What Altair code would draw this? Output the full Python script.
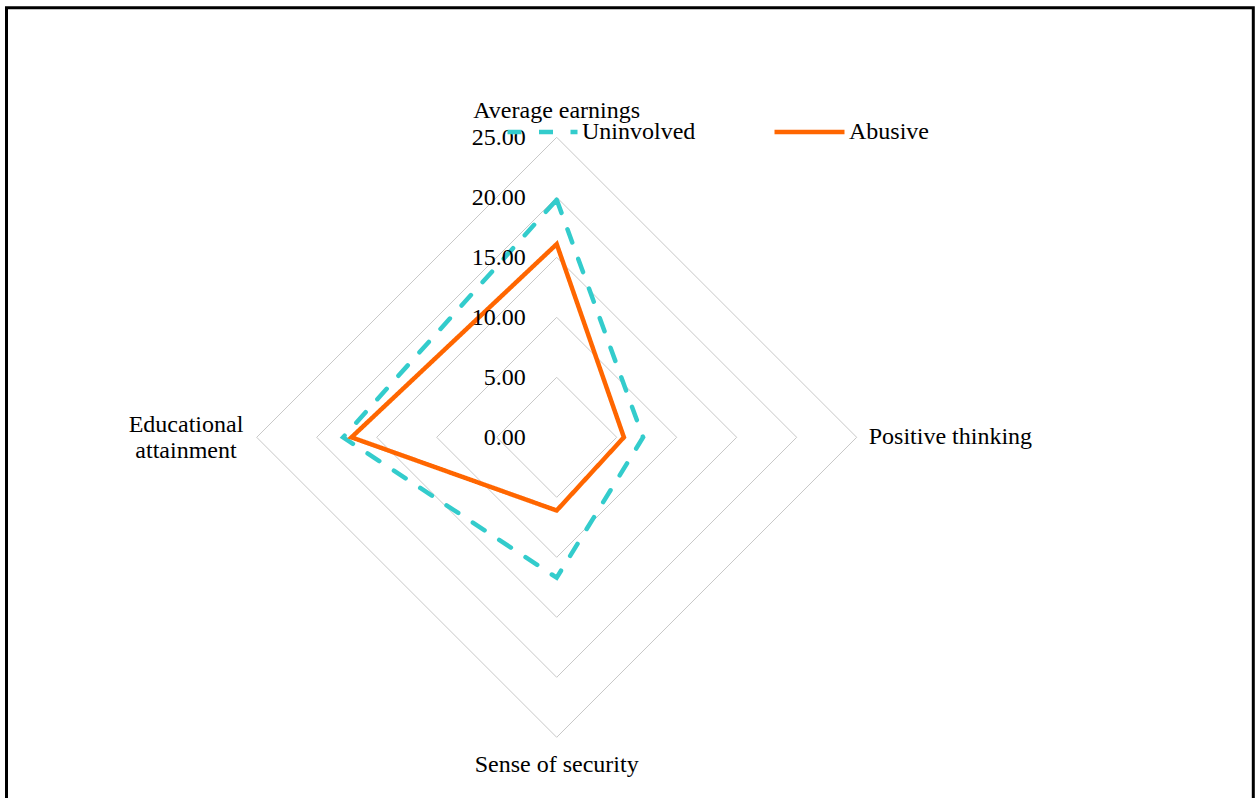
import altair as alt
import pandas as pd

# ---- data ----
categories = ["Average earnings", "Positive thinking", "Sense of security", "Educational attainment"]
series_names = ["Uninvolved", "Abusive"]
uninvolved = [19.8, 7.2, 11.7, 17.8]
abusive = [16.1, 5.6, 6.1, 17.1]
grid_levels = [5, 10, 15, 20, 25]
tick_values = [0, 5, 10, 15, 20, 25]
tick_labels = ["0.00", "5.00", "10.00", "15.00", "20.00", "25.00"]
max_level = 25

# ---- layout ----
W, H = 1257, 798
CX, CY, PPU = 556.7, 437.3, 12.0  # centre pixel and pixels per unit
XDOM = [-CX / PPU, (W - CX) / PPU]
YDOM = [-(H - CY) / PPU, CY / PPU]
FONT = "Liberation Serif"
FS = 24

rows = []
for name, vals in zip(series_names, [uninvolved, abusive]):
    for i, (c, v) in enumerate(zip(categories, vals)):
        rows.append({"series": name, "category": c, "idx": i, "r": v})
series_df = pd.DataFrame(rows)

grid_df = pd.DataFrame([{"level": L, "idx": i, "r": L} for L in grid_levels for i in range(len(categories))])
ticks_df = pd.DataFrame({"r": tick_values, "label": tick_labels, "idx": [0] * len(tick_values)})
cat_df = pd.DataFrame({"category": categories, "idx": list(range(len(categories))), "r": [max_level] * len(categories)})

X = alt.X("x:Q", scale=alt.Scale(domain=XDOM, nice=False, zero=False), axis=None)
Y = alt.Y("y:Q", scale=alt.Scale(domain=YDOM, nice=False, zero=False), axis=None)


def polar(ch):
    return ch.transform_calculate(
        x="datum.r * sin(datum.idx * PI / 2)",
        y="datum.r * cos(datum.idx * PI / 2)",
    )


grid = polar(alt.Chart(grid_df)).mark_line(
    interpolate="linear-closed", stroke="#c8c8c8", strokeWidth=1
).encode(x=X, y=Y, detail="level:N", order="idx:Q")


def legend():
    return alt.Legend(
        title=None,
        orient="none",
        legendX=505,
        legendY=94.3,
        direction="horizontal",
        symbolType="stroke",
        symbolSize=4900,
        symbolStrokeWidth=4.5,
        labelFont=FONT,
        labelFontSize=FS,
        labelColor="black",
        labelOffset=2,
        columnPadding=69,
        padding=0,
    )


color = alt.Color(
    "series:N",
    scale=alt.Scale(domain=series_names, range=["#33CCCC", "#FF6600"]),
    legend=legend(),
)
dash = alt.StrokeDash(
    "series:N",
    scale=alt.Scale(domain=series_names, range=[[14, 17.5], [1, 0]]),
    legend=legend(),
)

lines = polar(alt.Chart(series_df)).mark_line(
    interpolate="linear-closed", strokeWidth=4.5, strokeCap="round"
).encode(x=X, y=Y, color=color, strokeDash=dash, order="idx:Q")

ticks = polar(alt.Chart(ticks_df)).mark_text(
    align="right", baseline="middle", dx=-31, dy=1, font=FONT, fontSize=FS, color="black"
).encode(x=X, y=Y, text="label:N")


def cat_layer(i, **kw):
    return polar(alt.Chart(cat_df)).transform_filter(f"datum.idx == {i}").mark_text(
        font=FONT, fontSize=FS, color="black", **kw
    ).encode(x=X, y=Y, text="category:N")


cat_top = cat_layer(0, align="center", baseline="alphabetic", dy=-19)
cat_right = cat_layer(1, align="left", baseline="middle", dx=12)
cat_bottom = cat_layer(2, align="center", baseline="alphabetic", dy=35)
cat_left = cat_layer(3, align="center", baseline="middle", dx=-70.7, dy=-12, lineBreak=" ", lineHeight=26)

frame = alt.Chart(pd.DataFrame({"k": [0]})).mark_rect(
    fillOpacity=0, stroke="black", strokeWidth=3
).encode(x=alt.value(6.5), x2=alt.value(1253.3), y=alt.value(7.8), y2=alt.value(830))

chart = alt.layer(
    grid, lines, ticks, cat_top, cat_right, cat_bottom, cat_left, frame
).properties(
    width=W, height=H, padding=0, autosize=alt.AutoSizeParams(type="none")
).configure_view(strokeWidth=0)

chart.save("out.html", embed_options={"renderer": "svg", "actions": False})
